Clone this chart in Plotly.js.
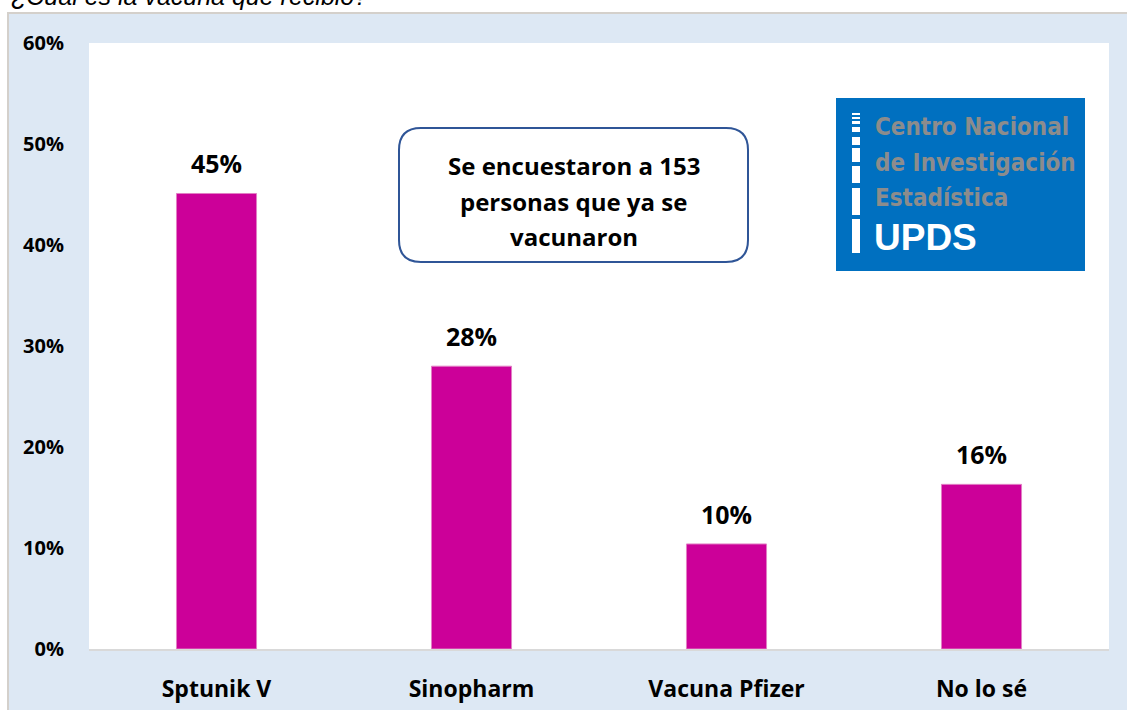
<!DOCTYPE html>
<html>
<head>
<meta charset="utf-8">
<script src="https://cdn.plot.ly/plotly-3.0.1.min.js"></script>
<style>html,body{margin:0;padding:0;background:#fff;}#chart{width:1127px;height:710px;}</style>
</head>
<body>
<div id="chart"></div>
<script>
const categories = ["Sptunik V", "Sinopharm", "Vacuna Pfizer", "No lo sé"];
const values = [0.451, 0.280, 0.104, 0.163];
const titleText = "¿Cuál es la vacuna que recibió?";
const noteLines = ["Se encuestaron a 153", "personas que ya se", "vacunaron"];
const logoLines = ["Centro Nacional", "de Investigación", "Estadística"];
const logoBrand = "UPDS";

const W = 1127, H = 710;
const M = {l: 89, r: 18, t: 43, b: 61};
const PW = W - M.l - M.r, PH = H - M.t - M.b;
const px = x => (x - M.l) / PW;
const py = y => (H - M.b - y) / PH;

const FONT = "'Open Sans', 'Noto Sans', sans-serif";
const shapes = [];
// outer frame
shapes.push({type:'rect', xref:'paper', yref:'paper', x0:px(8), x1:px(1140), y0:py(720), y1:py(13),
  fillcolor:'#dde8f4', line:{color:'#d4d0cb', width:2}, layer:'below'});
// plot area
shapes.push({type:'rect', xref:'paper', yref:'paper', x0:0, x1:1, y0:0, y1:1,
  fillcolor:'#ffffff', line:{width:0}, layer:'below'});
// rounded note box
(function(){
  const x0 = px(399), x1 = px(748), y0 = py(262), y1 = py(128);
  const rx = 22 / PW, ry = 22 / PH;
  const p = `M ${x0+rx},${y1} L ${x1-rx},${y1} Q ${x1},${y1} ${x1},${y1-ry} L ${x1},${y0+ry} Q ${x1},${y0} ${x1-rx},${y0} L ${x0+rx},${y0} Q ${x0},${y0} ${x0},${y0+ry} L ${x0},${y1-ry} Q ${x0},${y1} ${x0+rx},${y1} Z`;
  shapes.push({type:'path', xref:'paper', yref:'paper', path:p, fillcolor:'#ffffff', line:{color:'#2f5597', width:2}, layer:'above'});
})();
// logo background
shapes.push({type:'rect', xref:'paper', yref:'paper', x0:px(836), x1:px(1085), y0:py(271), y1:py(98),
  fillcolor:'#0070c0', line:{width:0}, layer:'above'});
// logo ladder
const ladder = [[113,115],[117,119],[121,124],[127,132],[137,145],[148,162],[166,183],[188,215],[219,253]];
ladder.forEach(s => shapes.push({type:'rect', xref:'paper', yref:'paper', x0:px(852), x1:px(860), y0:py(s[1]), y1:py(s[0]),
  fillcolor:'#ffffff', line:{width:0}, layer:'above'}));

const annotations = [];
// title (cropped at top)
annotations.push({xref:'paper', yref:'paper', x:px(9), y:1, xanchor:'left', yanchor:'middle', yshift:47,
  text:'<i>'+titleText+'</i>', showarrow:false, font:{family:"'Liberation Sans', Arial, sans-serif", size:25, color:'#000'}});
// value labels
categories.forEach((c,i) => annotations.push({x:c, y:values[i], xref:'x', yref:'y', yanchor:'middle', yshift:30,
  text: Math.round(values[i]*100) + '%', showarrow:false, font:{family:FONT, size:25, color:'#000', weight:'bold'}}));
// note lines
const noteY = [166, 201, 236];
noteLines.forEach((t,i) => annotations.push({xref:'paper', yref:'paper', x:px(573.5), y:py(noteY[i]), xanchor:'center', yanchor:'middle',
  text:t, showarrow:false, font:{family:FONT, size:24, color:'#000', weight:'bold'}}));
// logo text
const logoY = [127, 163, 198];
logoLines.forEach((t,i) => annotations.push({xref:'paper', yref:'paper', x:px(873), y:py(logoY[i]), xanchor:'left', yanchor:'middle',
  text:t, showarrow:false, font:{family:"'DejaVu Sans Condensed', sans-serif", size:24, color:'#8c8c8c', weight:'bold'}}));
annotations.push({xref:'paper', yref:'paper', x:px(872), y:py(237), xanchor:'left', yanchor:'middle',
  text:logoBrand, showarrow:false, font:{family:"'Liberation Sans', Arial, sans-serif", size:37, color:'#ffffff', weight:'bold'}});

const data = [{type:'bar', x:categories, y:values, marker:{color:'#cc0099', line:{color:'#e27fc4', width:1}},
  hoverinfo:'skip'}];

const layout = {
  width:W, height:H, margin:M,
  paper_bgcolor:'#ffffff', plot_bgcolor:'rgba(0,0,0,0)',
  bargap:0.686, showlegend:false,
  xaxis:{showline:true, linecolor:'#d9d9d9', linewidth:2, showgrid:false, zeroline:false,
    ticks:'outside', ticklen:18, tickcolor:'rgba(0,0,0,0)',
    tickfont:{family:FONT, size:23, color:'#000', weight:'bold'}},
  yaxis:{range:[0,0.6], dtick:0.1, tickformat:'.0%', showgrid:false, zeroline:false, showline:false,
    ticks:'outside', ticklen:20, tickcolor:'rgba(0,0,0,0)',
    tickfont:{family:FONT, size:20, color:'#000', weight:'bold'}},
  shapes:shapes, annotations:annotations
};
Plotly.newPlot('chart', data, layout, {displayModeBar:false, staticPlot:true});
</script>
</body>
</html>
